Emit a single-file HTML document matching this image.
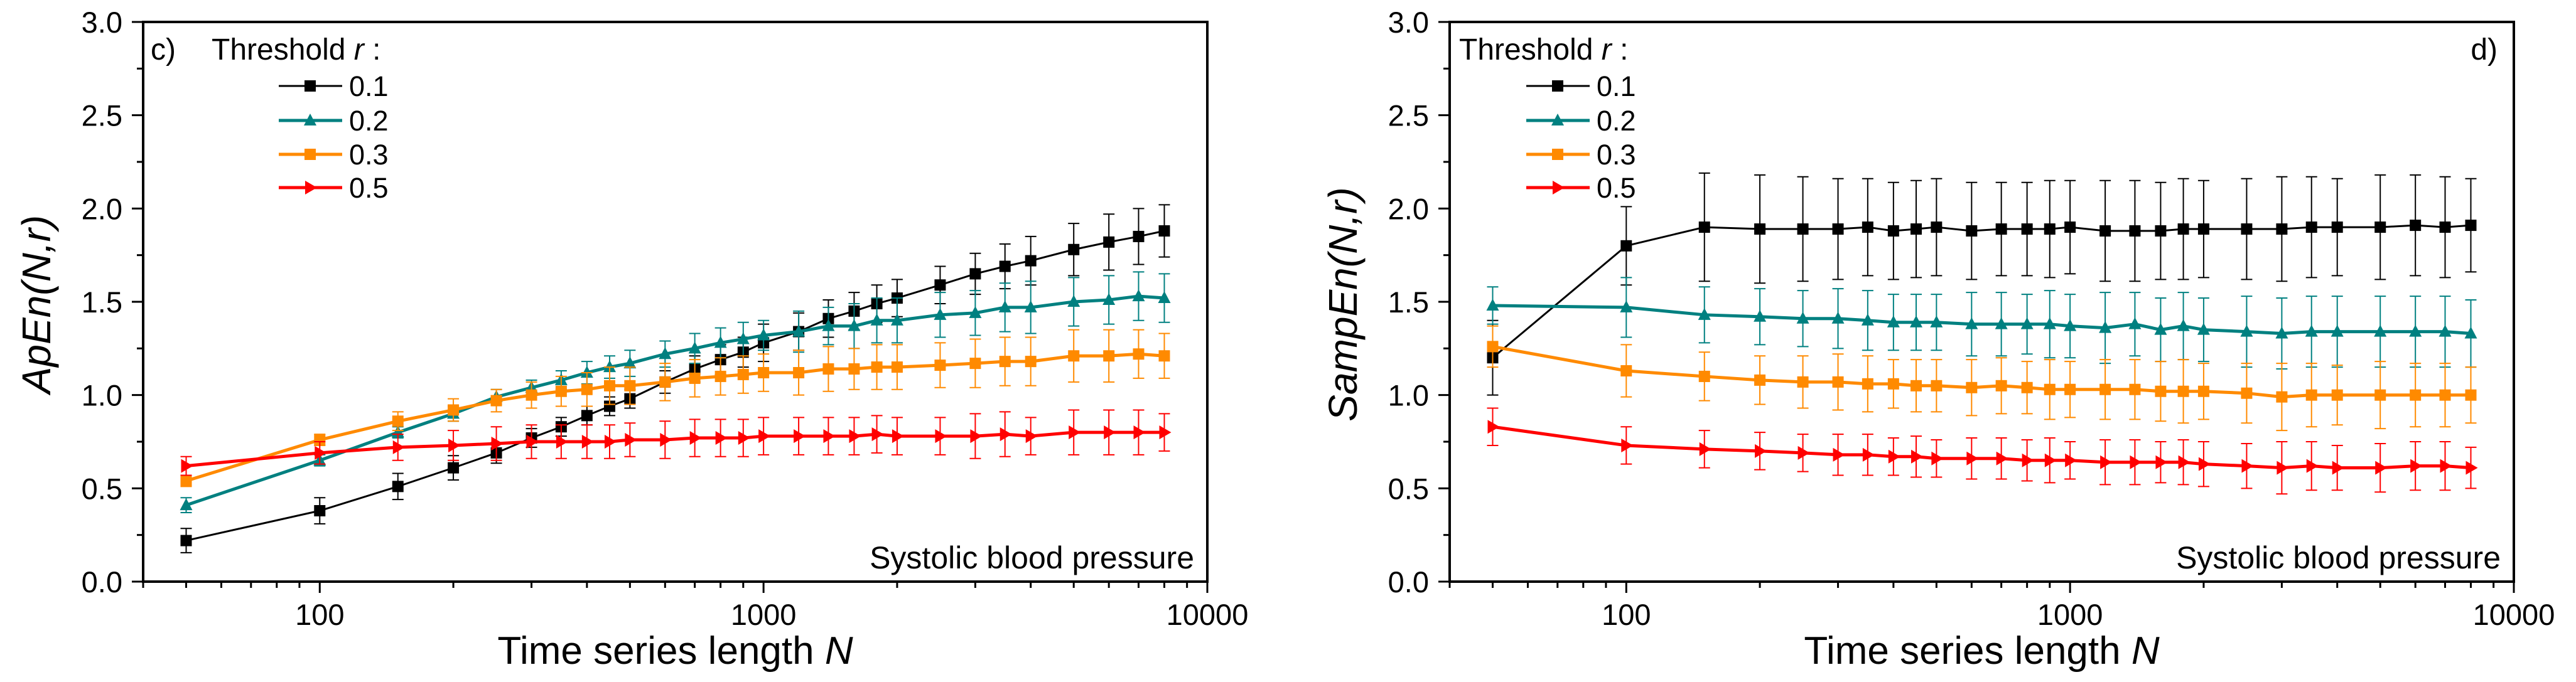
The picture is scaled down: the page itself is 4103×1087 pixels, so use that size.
<!DOCTYPE html>
<html><head><meta charset="utf-8">
<style>
html,body{margin:0;padding:0;background:#fff;}
svg{display:block;font-family:"Liberation Sans",Arial,sans-serif;}
</style></head>
<body>
<svg id="chart" width="4103" height="1087" viewBox="0 0 4103 1087" xmlns="http://www.w3.org/2000/svg"></svg>
<script>
const nValues = [50,100,150,200,250,300,350,400,450,500,600,700,800,900,1000,1200,1400,1600,1800,2000,2500,3000,3500,4000,5000,6000,7000,8000];
const xTickValues = [100,1000,10000];
const xTickLabels = ["100","1000","10000"];
const yTickValues = [0,0.5,1,1.5,2,2.5,3];
const yTickLabels = ["0.0","0.5","1.0","1.5","2.0","2.5","3.0"];
const seriesNames = ["0.1","0.2","0.3","0.5"];

const apen01 = [0.22,0.38,0.51,0.61,0.69,0.77,0.83,0.89,0.94,0.98,1.07,1.14,1.19,1.23,1.28,1.34,1.41,1.45,1.49,1.52,1.59,1.65,1.69,1.72,1.78,1.82,1.85,1.88];
const apen02 = [0.41,0.65,0.80,0.90,0.99,1.04,1.08,1.12,1.15,1.17,1.22,1.25,1.28,1.30,1.32,1.34,1.37,1.37,1.40,1.40,1.43,1.44,1.47,1.47,1.50,1.51,1.53,1.52];
const apen03 = [0.54,0.76,0.86,0.92,0.97,1.00,1.02,1.03,1.05,1.05,1.07,1.09,1.10,1.11,1.12,1.12,1.14,1.14,1.15,1.15,1.16,1.17,1.18,1.18,1.21,1.21,1.22,1.21];
const apen05 = [0.62,0.69,0.72,0.73,0.74,0.75,0.75,0.75,0.75,0.76,0.76,0.77,0.77,0.77,0.78,0.78,0.78,0.78,0.79,0.78,0.78,0.78,0.79,0.78,0.80,0.80,0.80,0.80];
const apenErr01 = [0.065,0.07,0.07,0.065,0.055,0.05,0.05,0.05,0.05,0.05,0.06,0.07,0.08,0.08,0.1,0.1,0.1,0.1,0.1,0.1,0.1,0.11,0.12,0.13,0.14,0.15,0.15,0.14];
const apenErr02 = [0.04,0.03,0.03,0.04,0.04,0.04,0.05,0.06,0.06,0.07,0.07,0.08,0.08,0.09,0.08,0.11,0.1,0.12,0.12,0.12,0.12,0.12,0.13,0.14,0.13,0.13,0.13,0.13];
const apenErr03 = [0.03,0.03,0.05,0.06,0.06,0.07,0.08,0.09,0.1,0.1,0.1,0.1,0.1,0.1,0.1,0.12,0.12,0.11,0.12,0.12,0.12,0.13,0.13,0.13,0.14,0.14,0.13,0.12];
const apenErr05 = [0.05,0.06,0.07,0.08,0.09,0.09,0.09,0.09,0.09,0.09,0.1,0.1,0.1,0.1,0.1,0.1,0.1,0.1,0.1,0.1,0.1,0.12,0.12,0.1,0.12,0.12,0.12,0.1];

const samp01 = [1.20,1.80,1.90,1.89,1.89,1.89,1.90,1.88,1.89,1.90,1.88,1.89,1.89,1.89,1.90,1.88,1.88,1.88,1.89,1.89,1.89,1.89,1.90,1.90,1.90,1.91,1.90,1.91];
const samp02 = [1.48,1.47,1.43,1.42,1.41,1.41,1.40,1.39,1.39,1.39,1.38,1.38,1.38,1.38,1.37,1.36,1.38,1.35,1.37,1.35,1.34,1.33,1.34,1.34,1.34,1.34,1.34,1.33];
const samp03 = [1.26,1.13,1.10,1.08,1.07,1.07,1.06,1.06,1.05,1.05,1.04,1.05,1.04,1.03,1.03,1.03,1.03,1.02,1.02,1.02,1.01,0.99,1.00,1.00,1.00,1.00,1.00,1.00];
const samp05 = [0.83,0.73,0.71,0.70,0.69,0.68,0.68,0.67,0.67,0.66,0.66,0.66,0.65,0.65,0.65,0.64,0.64,0.64,0.64,0.63,0.62,0.61,0.62,0.61,0.61,0.62,0.62,0.61];
const sampErr01 = [0.2,0.21,0.29,0.29,0.28,0.27,0.26,0.26,0.26,0.26,0.26,0.25,0.25,0.26,0.25,0.27,0.27,0.26,0.27,0.26,0.27,0.28,0.27,0.26,0.28,0.27,0.27,0.25];
const sampErr02 = [0.1,0.16,0.15,0.15,0.15,0.16,0.16,0.15,0.15,0.15,0.17,0.17,0.16,0.18,0.17,0.19,0.17,0.17,0.18,0.17,0.19,0.19,0.19,0.19,0.19,0.19,0.19,0.18];
const sampErr03 = [0.11,0.14,0.13,0.13,0.14,0.15,0.15,0.13,0.14,0.14,0.15,0.15,0.14,0.16,0.15,0.16,0.16,0.16,0.17,0.15,0.16,0.18,0.17,0.16,0.18,0.17,0.17,0.15];
const sampErr05 = [0.1,0.1,0.1,0.1,0.1,0.11,0.11,0.1,0.11,0.1,0.11,0.11,0.11,0.12,0.1,0.12,0.12,0.11,0.12,0.12,0.12,0.14,0.13,0.12,0.13,0.13,0.13,0.11];

const NS="http://www.w3.org/2000/svg";
const svg=document.getElementById('chart');
const colors=["#000000","#008080","#ff8a00","#ff0000"];
const shapes=["square","triUp","square","triRight"];

function mk(tag,attrs,parent){const e=document.createElementNS(NS,tag);for(const k in attrs)e.setAttribute(k,attrs[k]);(parent||svg).appendChild(e);return e;}

function marker(g,shape,cx,cy,col){
  let m;
  if(shape==="square"){m=mk('rect',{x:cx-9,y:cy-9,width:18,height:18,fill:col},g);}
  else if(shape==="triUp"){m=mk('polygon',{points:`${cx},${cy-11} ${cx+10},${cy+8} ${cx-10},${cy+8}`,fill:col},g);}
  else {m=mk('polygon',{points:`${cx+11},${cy} ${cx-8},${cy-11} ${cx-8},${cy+11}`,fill:col},g);}
  return m;
}

function panel(off,label,labelX,labelAnchor,ytitle,threshX,legX,series,errs){
  const L=228+off,R=1923+off,T=35,B=927;
  const xs=v=>L+(Math.log10(v)-Math.log10(40))/(4-Math.log10(40))*(R-L);
  const ys=v=>B-v/3*(B-T);
  const g=mk('g',{});
  
  
  // frame
  const fr=mk('rect',{x:L,y:T,width:R-L,height:B-T,fill:'none',stroke:'#000','stroke-width':4},g);
  
  
  // x ticks
  for(let d=1;d<=4;d++){for(let k=1;k<10;k++){const v=k*Math.pow(10,d);if(v<40||v>10000)continue;
    const major=(k===1);const t=mk('line',{x1:xs(v),x2:xs(v),y1:B,y2:B+(major?18:10),stroke:'#000','stroke-width':3},g);
    
    }}
  xTickValues.forEach((v,i)=>{const t=mk('text',{x:xs(v),y:996,'font-size':47,'text-anchor':'middle'},g);t.textContent=xTickLabels[i];
    
    });
  // y ticks
  for(let v=0;v<=3.001;v+=0.25){const major=Math.abs(v*2-Math.round(v*2))<1e-6;
    const t=mk('line',{x1:L-(major?18:10),x2:L,y1:ys(v),y2:ys(v),stroke:'#000','stroke-width':3},g);
    
    }
  yTickValues.forEach((v,i)=>{const t=mk('text',{x:L-33,y:ys(v)+17,'font-size':47,'text-anchor':'end'},g);t.textContent=yTickLabels[i];
    
    });
  // titles
  const xt=mk('text',{x:(L+R)/2,y:1058,'font-size':62,'text-anchor':'middle'},g);
  xt.innerHTML='Time series length <tspan font-style="italic">N</tspan>';
  
  
  const yt=mk('text',{x:0,y:0,'font-size':64,'font-style':'italic','text-anchor':'middle',transform:`translate(${80+off},485) rotate(-90)`},g);
  yt.textContent=ytitle;
  
  
  const pl=mk('text',{x:labelX,y:95,'font-size':48,'text-anchor':labelAnchor},g);pl.textContent=label;
  
  
  const sb=mk('text',{x:1902+off,y:906,'font-size':50,'text-anchor':'end'},g);sb.textContent='Systolic blood pressure';
  
  
  // legend
  const th=mk('text',{x:threshX,y:95,'font-size':48},g);th.innerHTML='Threshold <tspan font-style="italic">r</tspan> :';
  
  
  const rows=[137,192,246,299];
  seriesNames.forEach((nm,i)=>{
    const lg=mk('g',{},g);
    
    
    mk('line',{x1:legX,x2:legX+101,y1:rows[i],y2:rows[i],stroke:colors[i],'stroke-width':i===0?3:5},lg);
    marker(lg,shapes[i],legX+50,rows[i],colors[i]);
    const t=mk('text',{x:legX+112,y:rows[i]+16,'font-size':45},lg);t.textContent=nm;
  });
  // series
  series.forEach((vals,i)=>{
    const sg=mk('g',{},g);
    
    
    vals.forEach((v,j)=>{const x=xs(nValues[j]),e=errs[i][j];
      const eb=mk('path',{d:`M${x},${ys(v-e)}V${ys(v+e)}M${x-9},${ys(v-e)}H${x+9}M${x-9},${ys(v+e)}H${x+9}`,stroke:colors[i],'stroke-width':2,fill:'none'},sg);
      
      });
    const ln=mk('polyline',{points:vals.map((v,j)=>xs(nValues[j])+','+ys(v)).join(' '),fill:'none',stroke:colors[i],'stroke-width':i===0?3:5,'stroke-linejoin':'round'},sg);
    
    
    vals.forEach((v,j)=>{const m=marker(sg,shapes[i],xs(nValues[j]),ys(v),colors[i]);
      
      });
  });
}
panel(0,'c)',240,'start','ApEn(N,r)',337,444,[apen01,apen02,apen03,apen05],[apenErr01,apenErr02,apenErr03,apenErr05]);
panel(2081,'d)',3978,'end','SampEn(N,r)',2324,2431,[samp01,samp02,samp03,samp05],[sampErr01,sampErr02,sampErr03,sampErr05]);
</script>
</body></html>
